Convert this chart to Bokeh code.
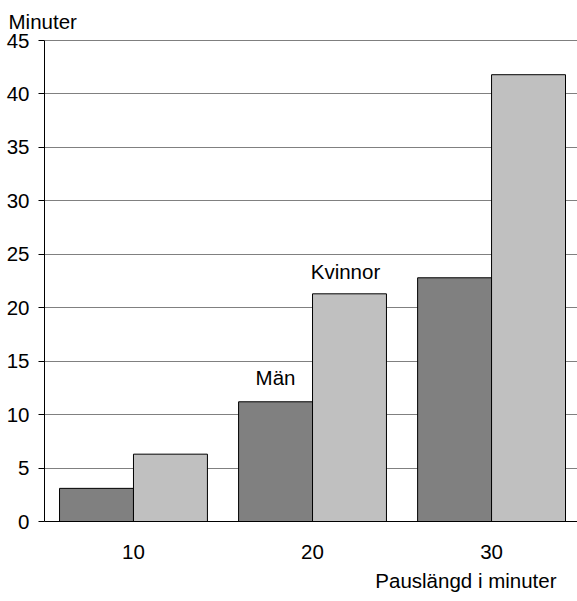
from bokeh.plotting import figure
from bokeh.models import ColumnDataSource, Range1d, Label, Span, FixedTicker, Title
from bokeh.transform import dodge
from bokeh.embed import file_html
from bokeh.resources import INLINE

# Data
pauslangd = [10, 20, 30]
man = [3.1, 11.2, 22.8]
kvinnor = [6.3, 21.3, 41.8]
series_names = ["Män", "Kvinnor"]
y_ticks = [0, 5, 10, 15, 20, 25, 30, 35, 40, 45]

FONT = "Liberation Sans"
FS = "20.5px"

src = ColumnDataSource(dict(x=pauslangd, man=man, kvinnor=kvinnor))

x_start, x_end = 5.03, 34.8
bar_w = 4.13

p = figure(width=577, height=601, output_backend="svg", toolbar_location=None,
           x_range=Range1d(x_start, x_end), y_range=Range1d(0, 45),
           min_border_left=44, min_border_right=0, min_border_top=40,
           min_border_bottom=80)
p.outline_line_color = None
p.background_fill_color = "white"
p.border_fill_color = "white"

p.vbar(x=dodge("x", -bar_w / 2), top="man", width=bar_w, source=src,
       fill_color="#808080", line_color="black", line_width=1)
p.vbar(x=dodge("x", bar_w / 2), top="kvinnor", width=bar_w, source=src,
       fill_color="#c0c0c0", line_color="black", line_width=1)

# axes
p.xgrid.grid_line_color = None
p.ygrid.grid_line_color = "#808080"
p.ygrid.grid_line_width = 1
p.yaxis.ticker = FixedTicker(ticks=y_ticks)
p.xaxis.ticker = FixedTicker(ticks=pauslangd)
for ax in (p.xaxis, p.yaxis):
    ax.axis_line_color = "black"
    ax.axis_line_width = 1
    ax.major_label_text_font = FONT
    ax.major_label_text_font_size = FS
    ax.major_label_text_color = "black"
    ax.minor_tick_line_color = None
p.yaxis.major_tick_out = 6
p.yaxis.major_tick_in = 0
p.yaxis.major_tick_line_color = "black"
p.yaxis.major_label_standoff = 9
p.xaxis.major_tick_out = 0
p.xaxis.major_tick_in = 0
p.xaxis.major_label_standoff = 23

p.add_layout(Span(location=y_ticks[-1], dimension="width", line_color="black", line_width=1))

# axis titles
p.add_layout(Title(text="Minuter", align="left", offset=-36, standoff=15,
                   text_font=FONT, text_font_size=FS, text_font_style="normal",
                   text_color="black"), "above")
p.add_layout(Title(text="Pauslängd i minuter", align="right", offset=21, standoff=10,
                   text_font=FONT, text_font_size=FS, text_font_style="normal",
                   text_color="black"), "below")

# series labels
p.add_layout(Label(x=pauslangd[1] - bar_w / 2, y=man[1], y_offset=24, text=series_names[0],
                   text_font=FONT, text_font_size=FS, text_color="black",
                   text_align="center", text_baseline="alphabetic"))
p.add_layout(Label(x=pauslangd[1] + bar_w / 2, y=kvinnor[1], x_offset=-4, y_offset=22,
                   text=series_names[1],
                   text_font=FONT, text_font_size=FS, text_color="black",
                   text_align="center", text_baseline="alphabetic"))

open("out.html", "w").write(file_html(p, INLINE))
